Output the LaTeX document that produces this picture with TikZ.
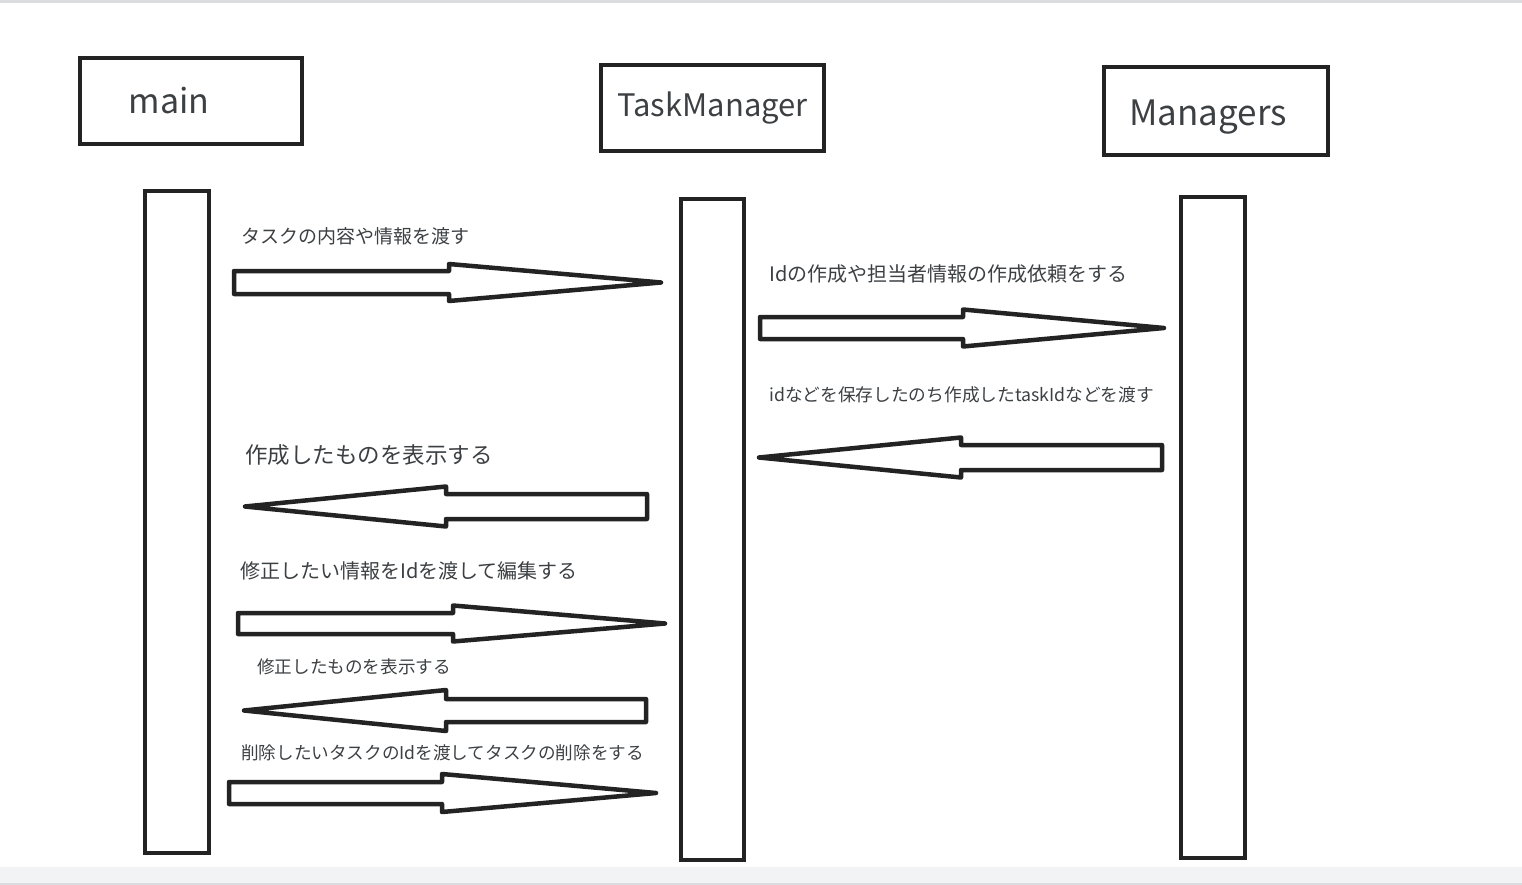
\documentclass[tikz,border=0pt]{standalone}
\usepackage{fontspec}
\setmainfont{Noto Sans CJK JP}
\definecolor{ink}{HTML}{232323}
\definecolor{txt}{HTML}{3C4043}
\definecolor{band}{HTML}{F1F3F4}
\definecolor{rulegray}{HTML}{DADCE0}
\tikzset{
  headbox/.style={draw=ink, line width=4.5pt, minimum width=222pt, minimum height=86pt, inner sep=0pt, text=txt},
  lifebar/.style={draw=ink, line width=4.5pt, minimum width=64pt, minimum height=662pt, inner sep=0pt},
  msg/.style={draw=ink, line width=4.5pt, line join=round},
  msgtext/.style={anchor=west, inner sep=0pt, text=txt},
}
% block arrow: tail x, head base x, tip x, mid y, body half, head half
\newcommand{\msgarrow}[6]{%
  \draw[msg] (#1,#4-#5) -- (#2,#4-#5) -- (#2,#4-#6) -- (#3,#4) -- (#2,#4+#6) -- (#2,#4+#5) -- (#1,#4+#5) -- cycle;}
\begin{document}
\begin{tikzpicture}[x=1pt, y=-1pt]
        \useasboundingbox (0,0) rectangle (1522,885);
        \fill[rulegray] (0,0) rectangle (1522,3);
        \fill[band] (0,867) rectangle (1522,885);
        \fill[rulegray] (0,883) rectangle (1522,885);

        % heads
        \node[headbox, label={[text=txt, xshift=-22pt]center:\fontsize{34}{38}\selectfont main}] (main) at (191,101) {};
        \node[headbox, minimum width=223pt] (taskmgr) at (712.5,108) {\fontsize{31}{34}\selectfont TaskManager};
        \node[headbox, minimum width=224pt, minimum height=88pt, label={[text=txt, xshift=-8pt, yshift=-6pt]center:\fontsize{35}{38}\selectfont Managers}] (managers) at (1216,111) {};

        % lifelines
        \node[lifebar] (mainbar) at (177,522) {};
        \node[lifebar, minimum width=63pt, minimum height=661pt] (taskbar) at (712.5,529.5) {};
        \node[lifebar, minimum height=661pt] (mgrbar) at (1213,527.5) {};

        % messages
        \node[msgtext] (m1) at (241,236) {\fontsize{19}{22}\selectfont タスクの内容や情報を渡す};
        \msgarrow{234}{449}{661}{282.5}{11.5}{18.5}

        \node[msgtext] (m2) at (769,274) {\fontsize{20}{23}\selectfont Idの作成や担当者情報の作成依頼をする};
        \msgarrow{760}{963}{1164}{328}{11}{18.5}

        \node[msgtext] (m3) at (769,395) {\fontsize{17.7}{20}\selectfont idなどを保存したのち作成したtaskIdなどを渡す};
        \msgarrow{1162}{961}{759}{457.5}{12.5}{20}

        \node[msgtext] (m4) at (245,455) {\fontsize{22.5}{26}\selectfont 作成したものを表示する};
        \msgarrow{647}{446}{245}{506.5}{12.5}{20}

        \node[msgtext] (m5) at (240,571) {\fontsize{20}{23}\selectfont 修正したい情報をIdを渡して編集する};
        \msgarrow{238}{453}{665}{623.5}{10.5}{18}

        \node[msgtext] (m6) at (257,667) {\fontsize{17.6}{20}\selectfont 修正したものを表示する};
        \msgarrow{646}{446}{244}{710.5}{11.5}{20.5}

        \node[msgtext] (m7) at (241,753) {\fontsize{17.6}{20}\selectfont 削除したいタスクのIdを渡してタスクの削除をする};
        \msgarrow{229}{442}{656}{793}{11}{19}
    \end{tikzpicture}
\end{document}
